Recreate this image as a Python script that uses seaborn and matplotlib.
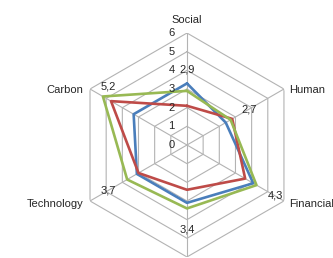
"""Radar chart of six capital scores for three series."""

import numpy as np
import pandas as pd
import matplotlib
matplotlib.use("Agg")
import matplotlib.pyplot as plt
import seaborn as sns

CATEGORIES = ["Social", "Human", "Financial", "", "Technology", "Carbon"]
SERIES_NAMES = ["Series1", "Series2", "Series3"]
BLUE_VALUES = [3.3, 2.4, 4.1, 3.1, 3.1, 3.3]
RED_VALUES = [2.1, 2.8, 3.6, 2.4, 3.0, 4.7]
GREEN_VALUES = [2.9, 2.7, 4.3, 3.4, 3.7, 5.2]
LABELS = ["2,9", "2,7", "4,3", "3,4", "3,7", "5,2"]
RADIAL_TICKS = [0, 1, 2, 3, 4, 5, 6]

COLORS = ["#4A7EBB", "#BE4B48", "#98B954"]
GRID = "#B3B3B3"
TEXT = "#262626"


def main() -> None:
    sns.set_theme(style="white")
    plt.rcParams["font.family"] = ["Liberation Sans", "DejaVu Sans"]

    n = len(CATEGORIES)
    theta = np.linspace(0, 2 * np.pi, n, endpoint=False)
    theta_closed = np.append(theta, 2 * np.pi)

    rows = []
    for name, values in zip(SERIES_NAMES, [BLUE_VALUES, RED_VALUES, GREEN_VALUES]):
        for t, v in zip(theta_closed, values + values[:1]):
            rows.append({"theta": t, "value": v, "series": name})
    df = pd.DataFrame(rows)

    fig = plt.figure(figsize=(3.33, 2.58), dpi=100)
    ax = fig.add_axes([0.225, 0.004, 0.673, 0.868], projection="polar")
    ax.set_theta_zero_location("N")
    ax.set_theta_direction(-1)
    ax.set_ylim(0, 6)
    ax.grid(False)
    ax.spines["polar"].set_visible(False)
    ax.set_xticks([])
    ax.set_yticks([])

    # hexagonal grid + spokes
    for r in RADIAL_TICKS[1:]:
        ax.plot(theta_closed, [r] * (n + 1), color=GRID, lw=0.8, zorder=1)
    for t in theta:
        ax.plot([t, t], [0, RADIAL_TICKS[-1]], color=GRID, lw=0.8, zorder=1)

    sns.lineplot(
        data=df, x="theta", y="value", hue="series", palette=COLORS,
        sort=False, estimator=None, lw=1.9, ax=ax, legend=False, zorder=3,
    )
    ax.set_xlabel("")
    ax.set_ylabel("")

    for r in RADIAL_TICKS:
        ax.annotate(str(r), xy=(0, r), xytext=(-9, 0), textcoords="offset points",
                    ha="right", va="center", fontsize=8, color=TEXT)

    cat_offsets = [(0, 9.5, "center"), (4, -1, "left"), (4, -2, "left"),
                   (0, -10, "center"), (-5, -2, "right"), (-5, -1, "right")]
    for t, name, (dx, dy, ha) in zip(theta, CATEGORIES, cat_offsets):
        ax.annotate(name, xy=(t, RADIAL_TICKS[-1]), xytext=(dx, dy), textcoords="offset points",
                    ha=ha, va="center", fontsize=8, color=TEXT, annotation_clip=False)

    for i, (t, v, lab) in enumerate(zip(theta, GREEN_VALUES, LABELS)):
        d = 15.5
        dx, dy = np.sin(t) * d, np.cos(t) * d
        if i == 5:
            dx, dy = 4, 7.5
        ax.annotate(lab, xy=(t, v), xytext=(dx, dy), textcoords="offset points",
                    ha="center", va="center", fontsize=8, color=TEXT)

    fig.savefig("out.png", dpi=100)
    plt.close(fig)


if __name__ == "__main__":
    main()
